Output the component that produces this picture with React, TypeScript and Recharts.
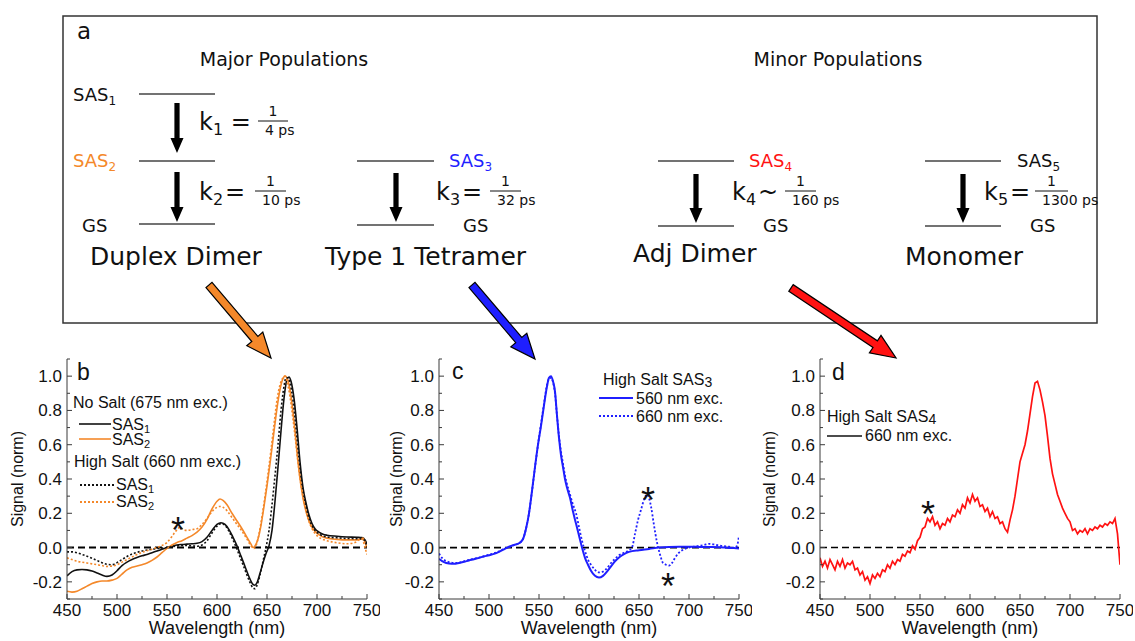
import React from "react";
import { LineChart, Line, XAxis, YAxis, ReferenceLine } from "recharts";

type Pt = [number, number];

const AXIS = "#3a3a3a";
const INK = "#111";
const ORANGE = "#f4882a";
const BLUE = "#1f1fff";
const RED = "#ff1212";
const PLOT_FONT = "'Liberation Sans', Arial, sans-serif";
const DIAG_FONT = "'DejaVu Sans', Verdana, sans-serif";

const wlTicks = [450, 475, 500, 525, 550, 575, 600, 625, 650, 675, 700, 725, 750];
const signalTicks = [-0.3, -0.2, -0.1, 0, 0.1, 0.2, 0.3, 0.4, 0.5, 0.6, 0.7, 0.8, 0.9, 1.0, 1.1];

// panel b
const noSaltSas1: Pt[] = [
  [450, -0.165], [455, -0.14], [460, -0.13], [465, -0.128], [470, -0.13], [475, -0.137], [480, -0.148],
  [485, -0.16], [490, -0.168], [495, -0.16], [500, -0.135], [505, -0.105], [510, -0.085], [515, -0.07],
  [520, -0.058], [525, -0.048], [530, -0.04], [535, -0.03], [540, -0.02], [545, -0.01], [550, 0.0],
  [555, 0.008], [560, 0.015], [565, 0.018], [570, 0.02], [575, 0.022], [580, 0.025], [585, 0.035],
  [590, 0.06], [595, 0.1], [600, 0.135], [604, 0.145], [608, 0.135], [612, 0.105], [616, 0.06],
  [620, 0.01], [624, -0.05], [628, -0.11], [632, -0.17], [636, -0.215], [638, -0.22], [640, -0.205],
  [643, -0.15], [646, -0.09], [649, -0.035], [652, 0.01], [655, 0.1], [658, 0.27], [661, 0.47],
  [664, 0.68], [667, 0.87], [670, 0.98], [672, 0.995], [674, 0.97], [677, 0.87], [680, 0.7],
  [683, 0.5], [686, 0.35], [689, 0.26], [692, 0.19], [695, 0.14], [698, 0.11], [702, 0.09],
  [706, 0.078], [710, 0.072], [720, 0.066], [730, 0.062], [740, 0.06], [745, 0.058], [748, 0.045],
  [750, 0.02],
];
const noSaltSas2: Pt[] = [
  [450, -0.255], [455, -0.26], [460, -0.255], [465, -0.24], [470, -0.225], [475, -0.21], [480, -0.2],
  [485, -0.195], [490, -0.195], [495, -0.19], [500, -0.18], [505, -0.155], [510, -0.13], [515, -0.115],
  [520, -0.108], [525, -0.1], [530, -0.09], [535, -0.075], [540, -0.055], [545, -0.03], [550, -0.005],
  [555, 0.015], [560, 0.03], [565, 0.04], [570, 0.055], [575, 0.07], [580, 0.09], [585, 0.12],
  [590, 0.165], [595, 0.225], [600, 0.27], [603, 0.283], [606, 0.275], [610, 0.25], [615, 0.2],
  [620, 0.155], [625, 0.11], [630, 0.06], [634, 0.02], [636, 0.0], [638, 0.01], [641, 0.05],
  [644, 0.13], [647, 0.24], [650, 0.36], [653, 0.49], [656, 0.63], [659, 0.77], [662, 0.89],
  [665, 0.97], [668, 1.0], [670, 0.99], [672, 0.95], [675, 0.84], [678, 0.68], [681, 0.5],
  [684, 0.36], [687, 0.26], [690, 0.19], [694, 0.13], [698, 0.095], [702, 0.075], [706, 0.062],
  [710, 0.055], [720, 0.048], [730, 0.045], [740, 0.045], [744, 0.05], [746, 0.055], [748, 0.03],
  [750, 0.0],
];
const highSaltSas1: Pt[] = [
  [450, -0.025], [455, -0.025], [460, -0.03], [465, -0.04], [470, -0.05], [475, -0.062], [480, -0.075],
  [485, -0.088], [490, -0.098], [495, -0.1], [500, -0.088], [505, -0.07], [510, -0.052], [515, -0.038],
  [520, -0.028], [525, -0.02], [530, -0.014], [535, -0.01], [540, -0.006], [545, -0.003], [550, 0.0],
  [555, 0.005], [560, 0.01], [565, 0.012], [570, 0.012], [575, 0.01], [580, 0.008], [585, 0.015],
  [590, 0.04], [595, 0.085], [600, 0.125], [604, 0.14], [608, 0.13], [612, 0.095], [616, 0.045],
  [620, -0.01], [624, -0.07], [628, -0.13], [632, -0.19], [636, -0.235], [638, -0.24], [640, -0.22],
  [643, -0.16], [646, -0.08], [649, 0.0], [652, 0.1], [655, 0.25], [658, 0.42], [661, 0.6],
  [664, 0.8], [667, 0.94], [669, 0.99], [671, 0.99], [673, 0.96], [676, 0.86], [679, 0.7],
  [682, 0.52], [685, 0.37], [688, 0.27], [691, 0.19], [694, 0.14], [698, 0.1], [702, 0.08],
  [706, 0.068], [710, 0.062], [720, 0.057], [730, 0.053], [740, 0.052], [745, 0.05], [748, 0.04],
  [750, 0.0],
];
const highSaltSas2: Pt[] = [
  [450, -0.06], [455, -0.07], [460, -0.08], [465, -0.085], [470, -0.09], [475, -0.095], [480, -0.1],
  [485, -0.105], [490, -0.11], [495, -0.108], [500, -0.1], [505, -0.085], [510, -0.07], [515, -0.055],
  [520, -0.04], [525, -0.028], [530, -0.018], [535, -0.01], [540, 0.0], [545, 0.012], [550, 0.03],
  [555, 0.065], [558, 0.09], [561, 0.11], [563, 0.12], [566, 0.105], [570, 0.1], [575, 0.105],
  [580, 0.11], [585, 0.135], [590, 0.17], [595, 0.21], [600, 0.235], [603, 0.24], [606, 0.235],
  [610, 0.215], [615, 0.175], [620, 0.135], [625, 0.095], [630, 0.05], [634, 0.01], [637, -0.005],
  [639, 0.01], [642, 0.08], [645, 0.18], [648, 0.3], [651, 0.43], [654, 0.57], [657, 0.72],
  [660, 0.86], [663, 0.95], [666, 0.99], [668, 1.0], [670, 0.97], [673, 0.88], [676, 0.75],
  [679, 0.6], [682, 0.45], [685, 0.33], [688, 0.24], [691, 0.17], [695, 0.11], [700, 0.07],
  [705, 0.05], [710, 0.04], [720, 0.028], [730, 0.022], [738, 0.03], [742, 0.045], [745, 0.05],
  [748, 0.0], [750, -0.04],
];

// panel c
const sas3Exc560: Pt[] = [
  [450, -0.065], [455, -0.085], [460, -0.093], [465, -0.095], [470, -0.09], [475, -0.083], [480, -0.075],
  [485, -0.068], [490, -0.06], [495, -0.052], [500, -0.045], [505, -0.037], [510, -0.025], [515, -0.01],
  [520, 0.005], [525, 0.015], [530, 0.025], [534, 0.05], [537, 0.11], [540, 0.2], [543, 0.33],
  [546, 0.47], [549, 0.6], [552, 0.71], [555, 0.83], [558, 0.94], [560, 0.99], [562, 1.0],
  [564, 0.97], [566, 0.91], [568, 0.77], [570, 0.64], [572, 0.54], [574, 0.47], [576, 0.4],
  [578, 0.35], [581, 0.29], [584, 0.21], [587, 0.14], [590, 0.07], [593, 0.0], [596, -0.06],
  [599, -0.1], [602, -0.135], [606, -0.165], [610, -0.175], [614, -0.165], [618, -0.14], [622, -0.11],
  [626, -0.08], [630, -0.058], [635, -0.038], [640, -0.025], [650, -0.015], [660, -0.008], [670, 0.0],
  [680, 0.004], [690, 0.005], [700, 0.005], [710, 0.004], [720, 0.003], [730, 0.002], [740, -0.002],
  [745, -0.003], [750, -0.005],
];
const sas3Exc660: Pt[] = [
  [450, -0.035], [453, -0.06], [456, -0.075], [460, -0.085], [465, -0.09], [470, -0.088], [475, -0.08],
  [480, -0.072], [485, -0.065], [490, -0.058], [495, -0.05], [500, -0.042], [505, -0.033], [510, -0.022],
  [515, -0.008], [520, 0.003], [525, 0.015], [530, 0.025], [534, 0.05], [537, 0.11], [540, 0.2],
  [543, 0.33], [546, 0.47], [549, 0.6], [552, 0.72], [555, 0.84], [558, 0.95], [560, 0.985],
  [562, 0.99], [564, 0.965], [566, 0.9], [568, 0.77], [570, 0.65], [572, 0.56], [574, 0.49],
  [576, 0.42], [578, 0.37], [581, 0.31], [584, 0.25], [587, 0.2], [590, 0.12], [593, 0.04],
  [596, -0.02], [599, -0.07], [602, -0.1], [606, -0.13], [610, -0.145], [614, -0.14], [618, -0.12],
  [622, -0.09], [626, -0.065], [630, -0.045], [635, -0.03], [640, -0.015], [643, 0.0], [646, 0.08],
  [649, 0.16], [652, 0.22], [655, 0.28], [658, 0.31], [660, 0.29], [662, 0.24], [665, 0.13],
  [668, 0.03], [671, -0.04], [674, -0.09], [677, -0.1], [680, -0.105], [683, -0.09], [686, -0.06],
  [690, -0.03], [695, -0.01], [700, 0.0], [705, 0.005], [710, 0.01], [715, 0.015], [720, 0.022],
  [725, 0.018], [730, 0.012], [735, 0.008], [740, 0.005], [745, 0.0], [748, 0.01], [750, 0.07],
];

// panel d
const sas4Exc660: Pt[] = [
  [450, -0.06], [452.5, -0.11], [455, -0.08], [457.5, -0.12], [460, -0.07], [462.5, -0.1], [465, -0.13],
  [467.5, -0.08], [470, -0.11], [472.5, -0.07], [475, -0.12], [477.5, -0.09], [480, -0.1], [482.5, -0.08],
  [485, -0.13], [487.5, -0.12], [490, -0.16], [492.5, -0.14], [495, -0.19], [497.5, -0.17], [500, -0.21],
  [502.5, -0.16], [505, -0.18], [507.5, -0.15], [510, -0.17], [512.5, -0.13], [515, -0.14], [517.5, -0.1],
  [520, -0.12], [522.5, -0.08], [525, -0.1], [527.5, -0.07], [530, -0.08], [532.5, -0.04], [535, -0.05],
  [537.5, -0.02], [540, -0.03], [542.5, 0.01], [545, -0.01], [547.5, 0.04], [550, 0.06], [552.5, 0.11],
  [555, 0.12], [557.5, 0.17], [560, 0.15], [562.5, 0.18], [565, 0.13], [567.5, 0.15], [570, 0.11],
  [572.5, 0.14], [575, 0.13], [577.5, 0.17], [580, 0.15], [582.5, 0.19], [585, 0.18], [587.5, 0.22],
  [590, 0.2], [592.5, 0.25], [595, 0.23], [597.5, 0.29], [600, 0.26], [602.5, 0.31], [605, 0.27],
  [607.5, 0.29], [610, 0.24], [612.5, 0.25], [615, 0.21], [617.5, 0.23], [620, 0.18], [622.5, 0.21],
  [625, 0.17], [627.5, 0.18], [630, 0.14], [632.5, 0.15], [635, 0.11], [637.5, 0.09], [640, 0.16],
  [642.5, 0.22], [645, 0.3], [647.5, 0.4], [650, 0.5], [652.5, 0.55], [655, 0.6], [657.5, 0.68],
  [660, 0.78], [662.5, 0.88], [665, 0.96], [667.5, 0.97], [670, 0.92], [672.5, 0.85], [675, 0.77],
  [677.5, 0.65], [680, 0.52], [682.5, 0.43], [685, 0.37], [687.5, 0.31], [690, 0.27], [692.5, 0.23],
  [695, 0.2], [697.5, 0.17], [700, 0.15], [702.5, 0.1], [705, 0.11], [707.5, 0.08], [710, 0.1],
  [712.5, 0.09], [715, 0.11], [717.5, 0.08], [720, 0.11], [722.5, 0.1], [725, 0.12], [727.5, 0.11],
  [730, 0.13], [732.5, 0.12], [735, 0.14], [737.5, 0.13], [740, 0.15], [742.5, 0.14], [745, 0.17],
  [747.5, 0.08], [750, -0.1],
];

type Series = { name: string; pts: Pt[]; color: string; dotted?: boolean; width: number; smooth: boolean };

const panelB: Series[] = [
  { name: "noSalt1", pts: noSaltSas1, color: INK, width: 1.6, smooth: true },
  { name: "noSalt2", pts: noSaltSas2, color: ORANGE, width: 1.6, smooth: true },
  { name: "highSalt1", pts: highSaltSas1, color: INK, dotted: true, width: 1.6, smooth: true },
  { name: "highSalt2", pts: highSaltSas2, color: ORANGE, dotted: true, width: 1.6, smooth: true },
];
const panelC: Series[] = [
  { name: "exc560", pts: sas3Exc560, color: BLUE, width: 2, smooth: true },
  { name: "exc660", pts: sas3Exc660, color: BLUE, dotted: true, width: 1.8, smooth: true },
];
const panelD: Series[] = [{ name: "exc660", pts: sas4Exc660, color: RED, width: 1.7, smooth: false }];

const toRows = (pts: Pt[]) => pts.map(([wl, s]) => ({ wl, s }));
const majorWl = (v: number) => v % 50 === 0;
const majorSig = (v: number) => Math.round(v * 10) % 2 === 0;

function BottomTick({ x, y, payload }: any) {
  const v = payload.value;
  const major = majorWl(v);
  return (
    <g>
      <line x1={x} x2={x} y1={y} y2={y - (major ? 5 : 3)} stroke={AXIS} />
      {major && (
        <text x={x} y={y + 17} textAnchor="middle" fontSize={17} fontFamily={PLOT_FONT} fill={INK}>
          {v}
        </text>
      )}
    </g>
  );
}
function TopTick({ x, y, payload }: any) {
  const major = majorWl(payload.value);
  return <line x1={x} x2={x} y1={y} y2={y + (major ? 5 : 3)} stroke={AXIS} />;
}
function LeftTick({ x, y, payload }: any) {
  const v = payload.value;
  const major = majorSig(v);
  return (
    <g>
      <line x1={x} x2={x + (major ? 5 : 3)} y1={y} y2={y} stroke={AXIS} />
      {major && (
        <text x={x - 5} y={y + 6} textAnchor="end" fontSize={17} fontFamily={PLOT_FONT} fill={INK}>
          {v.toFixed(1)}
        </text>
      )}
    </g>
  );
}
function RightTick({ x, y, payload }: any) {
  const major = majorSig(payload.value);
  return <line x1={x} x2={x - (major ? 5 : 3)} y1={y} y2={y} stroke={AXIS} />;
}

function SpectrumPanel({ left, series, zeroWidth }: { left: number; series: Series[]; zeroWidth: number }) {
  return (
    <div style={{ position: "absolute", left, top: 330 }}>
      <LineChart width={380} height={311} margin={{ top: 29, right: 13, left: 0, bottom: 0 }}>
        <XAxis
          xAxisId="b" dataKey="wl" type="number" domain={[450, 750]} ticks={wlTicks} interval={0}
          height={42} tickSize={0} tickMargin={0} tickLine={false} stroke={AXIS}
          tick={(p: any) => <BottomTick {...p} />} allowDataOverflow
        />
        <XAxis
          xAxisId="t" orientation="top" dataKey="wl" type="number" domain={[450, 750]} ticks={wlTicks}
          interval={0} height={0} tickSize={0} tickMargin={0} tickLine={false} stroke={AXIS}
          tick={(p: any) => <TopTick {...p} />} allowDataOverflow
        />
        <YAxis
          yAxisId="l" type="number" domain={[-0.3, 1.1]} ticks={signalTicks} interval={0} width={67}
          tickSize={0} tickMargin={0} tickLine={false} stroke={AXIS}
          tick={(p: any) => <LeftTick {...p} />} allowDataOverflow
        />
        <YAxis
          yAxisId="r" orientation="right" type="number" domain={[-0.3, 1.1]} ticks={signalTicks} interval={0}
          width={0} tickSize={0} tickMargin={0} tickLine={false} stroke={AXIS}
          tick={(p: any) => <RightTick {...p} />} allowDataOverflow
        />
        <ReferenceLine xAxisId="b" yAxisId="l" y={0} stroke="#000" strokeWidth={zeroWidth} strokeDasharray="7 4" />
        {series.map((s) => (
          <Line
            key={s.name}
            xAxisId="b"
            yAxisId="l"
            data={toRows(s.pts)}
            dataKey="s"
            type={s.smooth ? "monotone" : "linear"}
            stroke={s.color}
            strokeWidth={s.width}
            strokeDasharray={s.dotted ? "2 2" : undefined}
            dot={false}
            isAnimationActive={false}
          />
        ))}
      </LineChart>
    </div>
  );
}

function blockArrow(x1: number, y1: number, x2: number, y2: number, shaft: number, head: number, headLen: number) {
  const L = Math.hypot(x2 - x1, y2 - y1);
  const ux = (x2 - x1) / L;
  const uy = (y2 - y1) / L;
  const nx = -uy;
  const ny = ux;
  const bx = x2 - ux * headLen;
  const by = y2 - uy * headLen;
  const p = [
    [x1 + nx * shaft, y1 + ny * shaft],
    [bx + nx * shaft, by + ny * shaft],
    [bx + nx * head, by + ny * head],
    [x2, y2],
    [bx - nx * head, by - ny * head],
    [bx - nx * shaft, by - ny * shaft],
    [x1 - nx * shaft, y1 - ny * shaft],
  ];
  return p.map((q) => q.map((n) => n.toFixed(1)).join(",")).join(" ");
}

const DownArrow = ({ x, y1, y2 }: { x: number; y1: number; y2: number }) => (
  <polygon points={blockArrow(x, y1, x, y2, 2.6, 6.5, 15)} fill="#000" />
);

const Level = ({ x1, x2, y }: { x1: number; x2: number; y: number }) => (
  <line x1={x1} x2={x2} y1={y} y2={y} stroke="#444" strokeWidth={1.4} />
);

const Rate = ({ x, y, sub, op, den, barX, barW }: any) => (
  <g fontFamily={DIAG_FONT} fill={INK}>
    <text x={x} y={y} fontSize={24}>
      k<tspan fontSize={16} dy={5}>{sub}</tspan>
      <tspan dy={-5} dx={op === " = " ? 0 : 2}>{op}</tspan>
    </text>
    <line x1={barX} x2={barX + barW} y1={y - 9} y2={y - 9} stroke={INK} strokeWidth={1} />
    <text x={barX + barW / 2} y={y - 14} fontSize={14} textAnchor="middle">1</text>
    <text x={barX + 7} y={y + 5} fontSize={14}>{den}</text>
  </g>
);

const Sub = ({ x, y, main, sub, color, size, subSize, dy }: any) => (
  <text x={x} y={y} fontSize={size} fill={color}>
    {main}
    <tspan fontSize={subSize} dy={dy}>{sub}</tspan>
  </text>
);

const Star = ({ x, y }: { x: number; y: number }) => (
  <text x={x} y={y + 22} fontSize={36} textAnchor="middle" fontFamily={PLOT_FONT} fill={INK}>*</text>
);

function Overlay() {
  return (
    <svg width={1135} height={641} style={{ position: "absolute", left: 0, top: 0, pointerEvents: "none" }}>
      {/* panel a */}
      <rect x={63} y={16} width={1034} height={307} fill="none" stroke="#333" strokeWidth={1.5} />
      <g fontFamily={DIAG_FONT} fill={INK}>
        <text x={77} y={39} fontSize={23}>a</text>
        <text x={284} y={66} fontSize={19} textAnchor="middle">Major Populations</text>
        <text x={838} y={66} fontSize={19} textAnchor="middle">Minor Populations</text>

        <Sub x={73} y={101} main="SAS" sub="1" color={INK} size={18} subSize={12} dy={4} />
        <Sub x={73} y={167} main="SAS" sub="2" color={ORANGE} size={18} subSize={12} dy={4} />
        <text x={82} y={232} fontSize={18}>GS</text>
        <text x={90} y={265} fontSize={25}>Duplex Dimer</text>

        <Sub x={449} y={167} main="SAS" sub="3" color={BLUE} size={18} subSize={12} dy={4} />
        <text x={463} y={232} fontSize={18}>GS</text>
        <text x={325} y={265} fontSize={25}>Type 1 Tetramer</text>

        <Sub x={749} y={167} main="SAS" sub="4" color={RED} size={18} subSize={12} dy={4} />
        <text x={763} y={232} fontSize={18}>GS</text>
        <text x={633} y={262} fontSize={25}>Adj Dimer</text>

        <Sub x={1017} y={167} main="SAS" sub="5" color={INK} size={18} subSize={12} dy={4} />
        <text x={1030} y={232} fontSize={18}>GS</text>
        <text x={905} y={265} fontSize={25}>Monomer</text>
      </g>
      <Level x1={139} x2={215} y={94} />
      <Level x1={139} x2={215} y={161} />
      <Level x1={139} x2={215} y={224} />
      <Level x1={357} x2={434} y={161} />
      <Level x1={357} x2={434} y={225} />
      <Level x1={658} x2={734} y={161} />
      <Level x1={658} x2={734} y={226} />
      <Level x1={925} x2={1001} y={161} />
      <Level x1={925} x2={1001} y={226} />
      <DownArrow x={177} y1={103} y2={153} />
      <DownArrow x={177} y1={172} y2={222} />
      <DownArrow x={396} y1={173} y2={222} />
      <DownArrow x={696} y1={174} y2={223} />
      <DownArrow x={963} y1={174} y2={223} />
      <Rate x={199} y={130} sub="1" op=" = " den="4 ps" barX={258} barW={30} />
      <Rate x={199} y={200} sub="2" op="=" den="10 ps" barX={255} barW={31} />
      <Rate x={436} y={200} sub="3" op="=" den="32 ps" barX={490} barW={31} />
      <Rate x={732} y={200} sub="4" op="~" den="160 ps" barX={785} barW={31} />
      <Rate x={984} y={200} sub="5" op="=" den="1300 ps" barX={1035} barW={33} />

      {/* connecting arrows */}
      <polygon points={blockArrow(209, 285, 271, 358, 4, 10.5, 25)} fill={ORANGE} stroke="#000" strokeWidth={1.2} />
      <polygon points={blockArrow(472, 285, 535, 359, 4, 10.5, 25)} fill={BLUE} stroke="#000" strokeWidth={1.2} />
      <polygon points={blockArrow(791, 288, 896, 358, 4, 10.5, 25)} fill={RED} stroke="#000" strokeWidth={1.2} />

      {/* plot annotations */}
      <g fontFamily={PLOT_FONT} fill={INK}>
        <text x={77} y={380} fontSize={23}>b</text>
        <text x={73} y={408} fontSize={16}>No Salt (675 nm exc.)</text>
        <line x1={79} x2={111} y1={424} y2={424} stroke={INK} strokeWidth={1.6} />
        <Sub x={112} y={430} main="SAS" sub="1" color={INK} size={16} subSize={11} dy={3} />
        <line x1={79} x2={111} y1={439} y2={439} stroke={ORANGE} strokeWidth={1.6} />
        <Sub x={112} y={445} main="SAS" sub="2" color={INK} size={16} subSize={11} dy={3} />
        <text x={74} y={467} fontSize={16}>High Salt (660 nm exc.)</text>
        <line x1={80} x2={115} y1={485} y2={485} stroke={INK} strokeWidth={1.8} strokeDasharray="2 2" />
        <Sub x={116} y={490} main="SAS" sub="1" color={INK} size={16} subSize={11} dy={3} />
        <line x1={80} x2={115} y1={502} y2={502} stroke={ORANGE} strokeWidth={1.8} strokeDasharray="2 2" />
        <Sub x={116} y={507} main="SAS" sub="2" color={INK} size={16} subSize={11} dy={3} />

        <text x={452} y={379} fontSize={23}>c</text>
        <Sub x={603} y={385} main="High Salt SAS" sub="3" color={INK} size={16} subSize={14} dy={2} />
        <line x1={599} x2={633} y1={398} y2={398} stroke={BLUE} strokeWidth={2} />
        <text x={636} y={404} fontSize={16}>560 nm exc.</text>
        <line x1={599} x2={633} y1={416} y2={416} stroke={BLUE} strokeWidth={1.8} strokeDasharray="2 2" />
        <text x={636} y={422} fontSize={16}>660 nm exc.</text>

        <text x={832} y={380} fontSize={23}>d</text>
        <Sub x={827} y={422} main="High Salt SAS" sub="4" color={INK} size={16} subSize={14} dy={2} />
        <line x1={827} x2={862} y1={436} y2={436} stroke={INK} strokeWidth={1.6} />
        <text x={865} y={441} fontSize={16}>660 nm exc.</text>

        <text transform="translate(23,479) rotate(-90)" fontSize={16} textAnchor="middle">Signal (norm)</text>
        <text transform="translate(402,479) rotate(-90)" fontSize={16} textAnchor="middle">Signal (norm)</text>
        <text transform="translate(775,479) rotate(-90)" fontSize={16} textAnchor="middle">Signal (norm)</text>
        <text x={217} y={634} fontSize={18} textAnchor="middle">Wavelength (nm)</text>
        <text x={589} y={634} fontSize={18} textAnchor="middle">Wavelength (nm)</text>
        <text x={970} y={634} fontSize={18} textAnchor="middle">Wavelength (nm)</text>
      </g>
      <Star x={178} y={521} />
      <Star x={648} y={491} />
      <Star x={668} y={577} />
      <Star x={928} y={505} />
    </svg>
  );
}

export default function App() {
  return (
    <div style={{ position: "absolute", left: 0, top: 0, width: 1135, height: 641, background: "#fff", overflow: "hidden" }}>
      <SpectrumPanel left={0} series={panelB} zeroWidth={2} />
      <SpectrumPanel left={372} series={panelC} zeroWidth={1.8} />
      <SpectrumPanel left={753} series={panelD} zeroWidth={1.5} />
      <Overlay />
    </div>
  );
}
